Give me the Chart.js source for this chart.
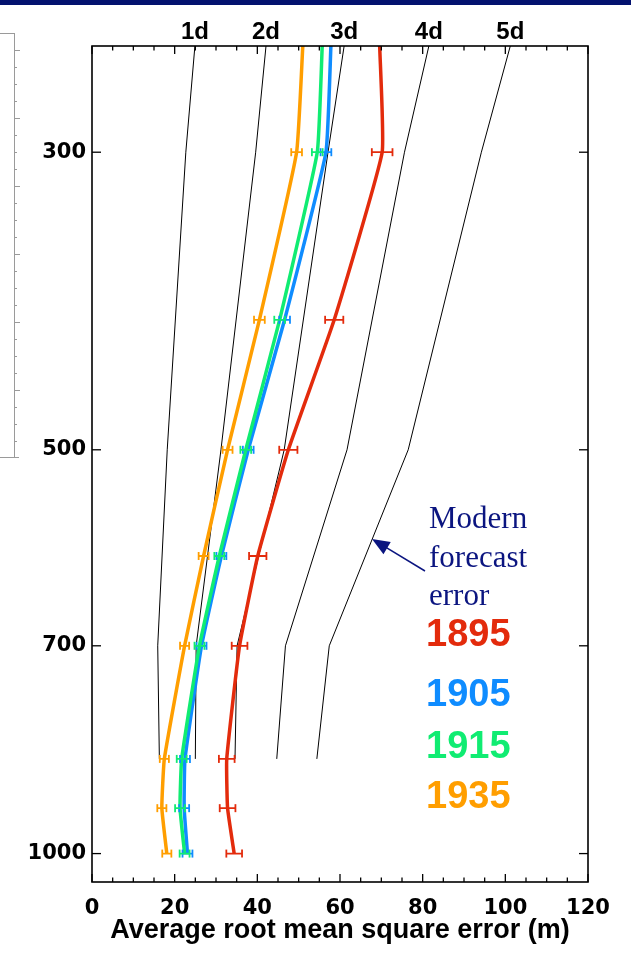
<!DOCTYPE html>
<html>
<head>
<meta charset="utf-8">
<title>Average RMS error by pressure level</title>
<script src="https://cdn.jsdelivr.net/npm/chart.js@4.4.1/dist/chart.umd.min.js"></script>
<style>
    html, body { margin: 0; padding: 0; background: #fff; }
    #wrap { width: 631px; height: 960px; }
</style>
</head>
<body>
<div id="wrap"><canvas id="errorChart" width="631" height="960"></canvas></div>
<script>

/* ==========================================
   DATA
========================================== */

// pressure levels (hPa) of the reanalysis profiles
const levels = [250, 300, 400, 500, 600, 700, 850, 925, 1000];

// average rms error (m) per year
const rms1895 = [69.6, 70.2, 58.6, 47.5, 40.1, 35.7, 32.6, 32.8, 34.4];
const rms1905 = [57.8, 56.6, 46.6, 37.8, 31.3, 26.5, 22.5, 22.3, 23.1];
const rms1915 = [55.7, 54.5, 45.4, 37.2, 30.8, 26.0, 21.7, 21.3, 22.4];
const rms1935 = [51.0, 49.5, 40.5, 32.8, 27.0, 22.4, 17.5, 16.9, 18.1];

// error bars (half width, m) at these levels
const barLevels = [300, 400, 500, 600, 700, 850, 925, 1000];
const bar1895 = [2.5, 2.2, 2.2, 2.1, 1.9, 1.9, 1.9, 1.9];
const bar1905 = [1.3, 1.3, 1.3, 1.2, 1.2, 1.2, 1.2, 1.2];
const bar1915 = [1.3, 1.3, 1.3, 1.2, 1.2, 1.2, 1.2, 1.2];
const bar1935 = [1.3, 1.3, 1.2, 1.2, 1.1, 1.1, 1.1, 1.1];

// modern forecast error, day 1 to day 5
const modernLevels = [250, 300, 500, 700, 850];
const day1 = [24.9, 22.7, 18.2, 15.9, 16.3];
const day2 = [42.1, 39.6, 31.2, 25.2, 25.0];
const day3 = [61.0, 57.1, 46.5, 35.1, 34.6];
const day4 = [81.5, 75.6, 61.7, 46.8, 44.7];
const day5 = [101.2, 94.2, 76.5, 57.4, 54.4];
const dayLabels = ["1d", "2d", "3d", "4d", "5d"];

const pressureTicks = [300, 500, 700, 1000];
const years = ["1895", "1905", "1915", "1935"];


/* ==========================================
   STYLE
========================================== */

const YEAR_COLORS = {
    1895: "#e32b0c",
    1905: "#0f8cff",
    1915: "#10ec72",
    1935: "#ff9e00"
};

const SANS = "'Liberation Sans', Arial, Helvetica, sans-serif";
const WIDE = "'DejaVu Sans', Verdana, sans-serif";
const SERIF = "'Liberation Serif', 'Times New Roman', serif";

const NO_GRID = { display: false, drawTicks: false, tickLength: 0 };


/* ==========================================
   DATASET HELPERS
========================================== */

function profile(values){
    return levels.map((p, i) => ({ x: values[i], y: p }));
}

function modern(values){
    return modernLevels.map((p, i) => ({ x: values[i], y: p }));
}

// each bar: left end, right end, then a gap
function errorBars(values, halfWidths){
    const out = [];
    barLevels.forEach((p, i) => {
        const v = values[levels.indexOf(p)];
        out.push({ x: v - halfWidths[i], y: p });
        out.push({ x: v + halfWidths[i], y: p });
        out.push({ x: null, y: null });
    });
    return out;
}

const series = [
    { year: "1935", rms: rms1935, bars: bar1935 },
    { year: "1915", rms: rms1915, bars: bar1915 },
    { year: "1905", rms: rms1905, bars: bar1905 },
    { year: "1895", rms: rms1895, bars: bar1895 }
];

const datasets = [];

[day1, day2, day3, day4, day5].forEach(d => {
    datasets.push({
        data: modern(d),
        showLine: true,
        borderColor: "#000",
        borderWidth: 1,
        pointRadius: 0,
        tension: 0,
        order: 3
    });
});

series.forEach(s => {
    const color = YEAR_COLORS[s.year];
    datasets.push({
        data: profile(s.rms),
        showLine: true,
        borderColor: color,
        borderWidth: 3.5,
        pointRadius: 0,
        tension: 0.12,
        order: 2
    });
    datasets.push({
        data: errorBars(s.rms, s.bars),
        showLine: true,
        spanGaps: false,
        borderColor: color,
        borderWidth: 1.8,
        pointStyle: "line",
        rotation: 90,
        pointRadius: 4,
        pointBorderWidth: 1.8,
        pointBorderColor: color,
        tension: 0,
        order: 1
    });
});


/* ==========================================
   DECORATION PLUGIN
========================================== */

function seg(ctx, x1, y1, x2, y2){
    ctx.beginPath();
    ctx.moveTo(x1, y1);
    ctx.lineTo(x2, y2);
    ctx.stroke();
}

const decorations = {

    id: "decorations",

    beforeDraw(chart){
        const ctx = chart.ctx;
        ctx.save();
        ctx.fillStyle = "#fff";
        ctx.fillRect(0, 0, chart.width, chart.height);

        // slide header bar
        ctx.fillStyle = "#03126f";
        ctx.fillRect(0, 0, chart.width, 5);

        // faint ruler left over on the slide
        ctx.strokeStyle = "#9a9a9a";
        ctx.lineWidth = 1;
        seg(ctx, 14.5, 33, 14.5, 457);
        seg(ctx, 0, 33.5, 14.5, 33.5);
        seg(ctx, 0, 457.5, 19, 457.5);
        for(let y = 50; y < 457; y += 17){
            const long = Math.round((y - 118) / 17) % 4 === 0;
            seg(ctx, 14.5, y + 0.5, long ? 20 : 17, y + 0.5);
        }
        ctx.restore();
    },

    afterDatasetsDraw(chart){
        const ctx = chart.ctx;
        const a = chart.chartArea;
        const xs = chart.scales.x;
        const ys = chart.scales.y;
        ctx.save();
        ctx.strokeStyle = "#000";
        ctx.lineWidth = 1.3;

        // inward ticks, bottom and top
        xs.ticks.forEach(t => {
            const px = xs.getPixelForValue(t.value);
            const len = t.value % 20 === 0 ? 8 : 4.5;
            seg(ctx, px, a.bottom, px, a.bottom - len);
            seg(ctx, px, a.top, px, a.top + len);
        });

        // inward ticks, left and right
        ys.ticks.forEach(t => {
            const py = ys.getPixelForValue(t.value);
            seg(ctx, a.left, py, a.left + 9, py);
            seg(ctx, a.right, py, a.right - 9, py);
        });

        ctx.lineWidth = 1.6;
        ctx.strokeRect(a.left, a.top, a.right - a.left, a.bottom - a.top);
        ctx.restore();
    },

    afterDraw(chart){
        const ctx = chart.ctx;
        ctx.save();

        // note with arrow
        const navy = "#0b1580";
        ctx.fillStyle = navy;
        ctx.strokeStyle = navy;
        ctx.font = "31px " + SERIF;
        ctx.textBaseline = "alphabetic";
        ctx.textAlign = "left";
        ctx.fillText("Modern", 429, 528);
        ctx.fillText("forecast", 429, 567);
        ctx.fillText("error", 429, 605);

        const tipX = 372, tipY = 539, tailX = 425, tailY = 571;
        const ang = Math.atan2(tailY - tipY, tailX - tipX);
        ctx.lineWidth = 1.5;
        seg(ctx, tailX, tailY, tipX + Math.cos(ang) * 12, tipY + Math.sin(ang) * 12);
        ctx.beginPath();
        ctx.moveTo(tipX, tipY);
        ctx.lineTo(tipX + Math.cos(ang + 0.38) * 19, tipY + Math.sin(ang + 0.38) * 19);
        ctx.lineTo(tipX + Math.cos(ang - 0.38) * 19, tipY + Math.sin(ang - 0.38) * 19);
        ctx.closePath();
        ctx.fill();

        // year legend
        ctx.font = "bold 38px " + SANS;
        const baselines = [646, 706, 758, 808];
        years.forEach((y, i) => {
            ctx.fillStyle = YEAR_COLORS[y];
            ctx.fillText(y, 426, baselines[i]);
        });

        ctx.restore();
    }

};


/* ==========================================
   CHART
========================================== */

const tickFont = { family: WIDE, size: 21, weight: "bold" };

new Chart(document.getElementById("errorChart"), {

    type: "scatter",

    data: { datasets },

    options: {

        responsive: false,
        devicePixelRatio: 1,
        animation: false,
        events: [],

        layout: {
            padding: { left: 0, right: 43, top: 0, bottom: 0 }
        },

        plugins: {
            legend: { display: false },
            tooltip: { enabled: false }
        },

        scales: {

            x: {
                type: "linear",
                position: "bottom",
                min: 0,
                max: 120,
                grid: NO_GRID,
                border: { display: false },
                ticks: {
                    stepSize: 5,
                    autoSkip: false,
                    maxRotation: 0,
                    padding: 14,
                    color: "#000",
                    font: tickFont,
                    callback: v => (v % 20 === 0 ? v : "")
                },
                title: {
                    display: true,
                    text: "Average root mean square error (m)",
                    color: "#000",
                    font: { family: SANS, size: 27, weight: "bold" },
                    padding: { top: 0, bottom: 13 }
                },
                afterFit: s => { s.height = 78; }
            },

            x2: {
                type: "linear",
                position: "top",
                min: 0,
                max: 120,
                grid: NO_GRID,
                border: { display: false },
                afterBuildTicks: s => {
                    s.ticks = [day1, day2, day3, day4, day5].map(d => ({ value: d[0] }));
                },
                ticks: {
                    autoSkip: false,
                    maxRotation: 0,
                    padding: -1,
                    color: "#000",
                    font: { family: SANS, size: 24, weight: "bold" },
                    callback: (v, i) => dayLabels[i]
                },
                afterFit: s => { s.height = 46; }
            },

            y: {
                type: "logarithmic",
                position: "left",
                reverse: true,
                min: 250,
                max: 1050,
                grid: NO_GRID,
                border: { display: false },
                afterBuildTicks: s => {
                    s.ticks = pressureTicks.map(v => ({ value: v }));
                },
                ticks: {
                    autoSkip: false,
                    padding: 6,
                    color: "#000",
                    font: tickFont,
                    callback: v => v
                },
                afterFit: s => { s.width = 92; }
            }

        }

    },

    plugins: [decorations]

});

</script>
</body>
</html>
